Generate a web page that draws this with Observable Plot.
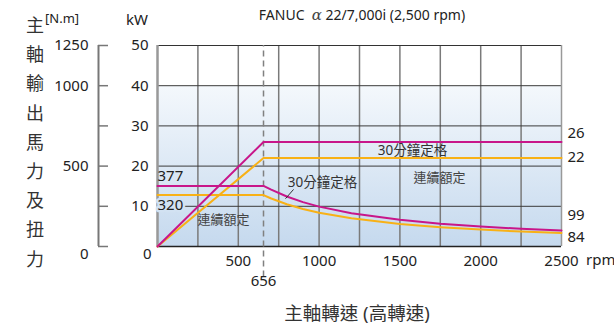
<!DOCTYPE html>
<html>
<head>
<meta charset="utf-8">
<script src="https://cdn.jsdelivr.net/npm/d3@7"></script>
<script src="https://cdn.jsdelivr.net/npm/@observablehq/plot@0.6"></script>
<style>
  html, body { margin: 0; padding: 0; background: #fff; }
  #wrap { position: relative; width: 614px; height: 328px; font-family: 'Noto Sans', 'Noto Sans CJK TC', sans-serif; color: #222; }
  #wrap svg { position: absolute; left: 0; top: 0; }
  .lbl { position: absolute; white-space: nowrap; line-height: 1; }
  .greek { font-family: 'DejaVu Serif', 'Liberation Serif', serif; font-style: italic; color: #444; }
</style>
</head>
<body>
<div id="wrap"></div>
<script>
// ---- data ----
const titleBrand = "FANUC";
const titleGreek = "\u03b1";
const titleModel = "22/7,000i (2,500 rpm)";
const yTitleChars = ["主","軸","輸","出","馬","力","及","扭","力"];
const xTitleText = "主軸轉速 (高轉速)";
const xUnit = "rpm";
const kwUnit = "kW";
const nmUnit = "[N.m]";

const xTicks = [500, 1000, 1500, 2000, 2500];
const xGrid = [250, 500, 750, 1000, 1250, 1500, 1750, 2000, 2250];
const kwTicks = [10, 20, 30, 40, 50];
const nmTicks = [0, 250, 500, 750, 1000, 1250];
const nmLabels = [500, 1000, 1250];
const baseSpeed = 656;

// power (kW) vs rpm
const powerRpm = [0, 656, 2500];
const power30 = [0, 26, 26];
const powerCont = [0, 22, 22];

// torque (N.m) vs rpm
const torqueRpm = [0, 656, 700, 800, 900, 1000, 1200, 1500, 1750, 2000, 2250, 2500];
const torque30 = [377, 377, 355, 311, 276, 248, 207, 166, 142, 124, 110, 99];
const torqueCont = [320, 320, 300, 263, 233, 210, 175, 140, 120, 105, 93, 84];

const label30 = "30分鐘定格";
const labelCont = "連續額定";

// ---- build ----
const nmPerKw = 25; // torque axis 0..1250 maps onto kW axis 0..50
const MAG = "#c8168a", YEL = "#f8b116";
const rows = (xs, ys) => xs.map((x, i) => ({x, y: ys[i]}));
const p30 = rows(powerRpm, power30);
const pCont = rows(powerRpm, powerCont);
const t30 = rows(torqueRpm, torque30).map(d => ({x: d.x, y: d.y / nmPerKw}));
const tCont = rows(torqueRpm, torqueCont).map(d => ({x: d.x, y: d.y / nmPerKw}));
const last = a => a[a.length - 1];

const font = "'Noto Sans', 'Noto Sans CJK TC', sans-serif";
const rightLbl = (val, dy) => Plot.text([val], {x: 2500, y: d => d.y, text: d => String(d.t), textAnchor: "start", dx: 6, dy, fontSize: 15, fill: "#222"});

const chart = Plot.plot({
  width: 614, height: 328,
  marginLeft: 157, marginRight: 53, marginTop: 45, marginBottom: 82,
  x: {domain: [0, 2500]},
  y: {domain: [0, 50]},
  style: {fontFamily: font, fontSize: "15px", background: "transparent", color: "#222", overflow: "visible"},
  marks: [
    Plot.frame({fill: "url(#bgGrad)", stroke: null}),
    Plot.gridX(xGrid, {stroke: "#7a7a7a", strokeOpacity: 1, strokeWidth: 1.5}),
    Plot.gridY(kwTicks.slice(0, 4), {stroke: "#3a3a3a", strokeOpacity: 1, strokeWidth: 1}),
    Plot.ruleY([50], {stroke: "#333", strokeWidth: 1.2}),
    Plot.ruleY([0], {stroke: "#222", strokeWidth: 1.5}),
    Plot.ruleX([0], {stroke: "#999", strokeWidth: 2.5}),
    Plot.ruleX([2500], {stroke: "#999", strokeWidth: 1.5}),
    Plot.ruleX([baseSpeed], {y1: -7.6, y2: 50, stroke: "#808080", strokeWidth: 1.5, strokeDasharray: "6,4", clip: false}),
    // lines
    Plot.line(pCont, {x: "x", y: "y", stroke: YEL, strokeWidth: 2}),
    Plot.line(tCont, {x: "x", y: "y", stroke: YEL, strokeWidth: 2}),
    Plot.line(p30, {x: "x", y: "y", stroke: MAG, strokeWidth: 2}),
    Plot.line(t30, {x: "x", y: "y", stroke: MAG, strokeWidth: 2}),
    // kW axis
    Plot.axisY(kwTicks, {anchor: "left", tickSize: 0, tickPadding: 9, fontSize: 15, tickFormat: d => String(d)}),
    Plot.axisY([0], {anchor: "left", tickSize: 0, tickPadding: 6, dy: 8, fontSize: 15, tickFormat: d => String(d)}),
    // torque axis (secondary)
    Plot.ruleX([0], {y1: 0, y2: 50, dx: -59, stroke: "#777", strokeWidth: 2}),
    Plot.axisY(nmTicks.map(t => t / nmPerKw), {anchor: "left", tickSize: -10, tickPadding: 20, dx: -59, stroke: "#777", strokeWidth: 1.5, fontSize: 15,
      tickFormat: d => nmLabels.includes(Math.round(d * nmPerKw)) ? String(Math.round(d * nmPerKw)) : ""}),
    Plot.axisY([0], {anchor: "left", tickSize: 0, tickPadding: 10, dx: -59, dy: 8, fontSize: 15, tickFormat: () => "0"}),
    // x axis
    Plot.axisX(xTicks, {anchor: "bottom", tickSize: 0, tickPadding: 9, fontSize: 15, tickFormat: d => String(d)}),
    Plot.text([baseSpeed], {x: d => d, frameAnchor: "bottom", dy: 39, text: d => String(d), fontSize: 15, fill: "#222"}),
    // left labels of torque values
    Plot.text([torque30[0]], {x: 0, y: d => d / nmPerKw, text: d => String(d), textAnchor: "start", dy: -10, fontSize: 15, fill: "#222"}),
    Plot.text([torqueCont[0]], {x: 0, y: d => d / nmPerKw, text: d => String(d), textAnchor: "start", dy: 10, fontSize: 15, fill: "#222", stroke: "#d2e2f2", strokeWidth: 5}),
    // right-end labels
    rightLbl({y: last(power30), t: last(power30)}, -9),
    rightLbl({y: last(powerCont), t: last(powerCont)}, -1),
    rightLbl({y: last(torque30) / nmPerKw, t: last(torque30)}, -15),
    rightLbl({y: last(torqueCont) / nmPerKw, t: last(torqueCont)}, 4),
    // annotations
    Plot.text([label30], {x: 1578, y: last(power30), dy: 9, text: d => d, fontSize: 13.5, fill: "#333"}),
    Plot.text([labelCont], {x: 1745, y: last(powerCont), dy: 20, text: d => d, fontSize: 13, fill: "#444"}),
    Plot.text([label30], {x: 1021, y: torque30[0] / nmPerKw, dy: -3, text: d => d, fontSize: 13.5, fill: "#333"}),
    Plot.text([labelCont], {x: 408, y: torqueCont[0] / nmPerKw, dy: 25, text: d => d, fontSize: 13, fill: "#444"}),
    Plot.link([{x1: 792, y1: 11.9, x2: 842, y2: 14.2}], {x1: "x1", y1: "y1", x2: "x2", y2: "y2", stroke: "#333", strokeWidth: 1})
  ]
});

d3.select(chart).insert("defs", ":first-child").html(
  `<linearGradient id="bgGrad" x1="0" y1="0" x2="0" y2="1">
     <stop offset="0" stop-color="#ffffff"/>
     <stop offset="0.2" stop-color="#ffffff"/>
     <stop offset="0.2" stop-color="#f4f8fc"/>
     <stop offset="1" stop-color="#c5d9ee"/>
   </linearGradient>`);

const wrap = document.getElementById("wrap");
wrap.appendChild(chart);

function addLabel(text, left, top, size, extra) {
  const s = document.createElement("span");
  s.className = "lbl";
  s.textContent = text;
  s.style.fontSize = size + "px";
  s.style.left = left + "px";
  s.style.top = top + "px";
  if (extra) Object.assign(s.style, extra);
  wrap.appendChild(s);
  return s;
}
const t = addLabel("", 362, 8, 14, {transform: "translateX(-50%)"});
t.innerHTML = "";
t.append(titleBrand + "\u00a0\u00a0");
const g = document.createElement("span");
g.className = "greek";
g.textContent = titleGreek;
g.style.fontSize = "15px";
t.append(g);
t.append("\u00a0" + titleModel);
addLabel(nmUnit, 45, 12, 13);
addLabel(kwUnit, 126, 12, 15);
yTitleChars.forEach((c, i) => addLabel(c, 35, 16 + i * 29.2, 18, {transform: "translateX(-50%)", color: "#333"}));
addLabel(xTitleText, 357, 304, 18.5, {transform: "translateX(-50%)", color: "#333"});
addLabel(xUnit, 586, 252, 15);
</script>
</body>
</html>
